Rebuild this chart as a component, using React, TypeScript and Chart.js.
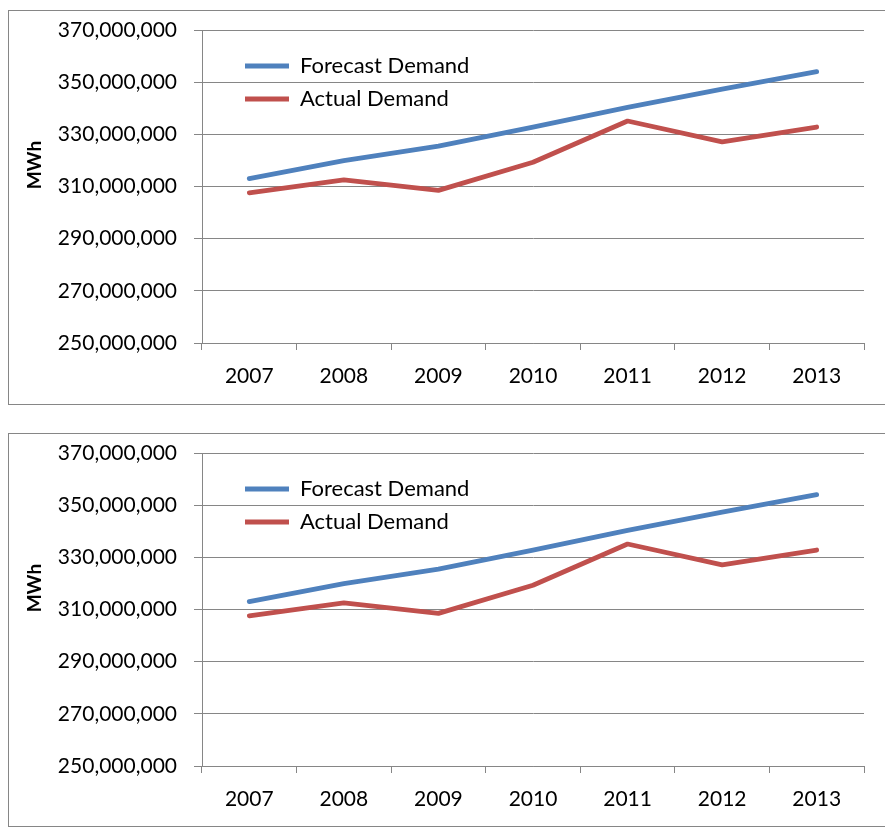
import React, { useEffect, useRef } from "react";
import { Chart, registerables } from "chart.js";

Chart.register(...registerables);

const years = ["2007", "2008", "2009", "2010", "2011", "2012", "2013"];
const forecastDemand = [313.0e6, 319.9e6, 325.5e6, 332.8e6, 340.3e6, 347.3e6, 354.0e6];
const actualDemand = [307.6e6, 312.5e6, 308.5e6, 319.3e6, 335.1e6, 327.1e6, 332.8e6];
const seriesNames = ["Forecast Demand", "Actual Demand"];
const yMin = 250000000;
const yMax = 370000000;
const yStep = 20000000;
const yTitle = "MWh";

const GRID = "#868686";
const FONT = "Lato";

const legendShift = {
  id: "legendShift",
  afterLayout(chart: any) {
    const lg = chart.legend;
    const ca = chart.chartArea;
    if (!lg || !ca) return;
    lg.left = ca.left + 32;
    lg.top = ca.top + 14;
    lg.right = lg.left + lg.width;
    lg.bottom = lg.top + lg.height;
  },
};

function LineChart({ height }: { height: number }) {
  const ref = useRef<HTMLCanvasElement | null>(null);
  useEffect(() => {
    if (!ref.current) return;
    const xHeight = height - 332;
    const chart = new Chart(ref.current, {
      type: "line",
      data: {
        labels: years,
        datasets: [
          {
            label: seriesNames[0],
            data: forecastDemand,
            borderColor: "#4F81BD",
            backgroundColor: "#4F81BD",
            borderWidth: 4.8,
            borderCapStyle: "round",
            borderJoinStyle: "round",
            pointRadius: 0,
            tension: 0,
          },
          {
            label: seriesNames[1],
            data: actualDemand,
            borderColor: "#C0504D",
            backgroundColor: "#C0504D",
            borderWidth: 4.8,
            borderCapStyle: "round",
            borderJoinStyle: "round",
            pointRadius: 0,
            tension: 0,
          },
        ],
      },
      options: {
        animation: false,
        responsive: true,
        maintainAspectRatio: false,
        layout: { padding: { left: 0, top: 19, right: 13, bottom: 0 } },
        plugins: {
          tooltip: { enabled: false },
          legend: {
            position: "chartArea" as any,
            align: "start",
            labels: {
              usePointStyle: true,
              pointStyle: "line",
              pointStyleWidth: 44,
              padding: 11,
              color: "#000",
              font: { family: FONT, size: 22 },
            },
          },
        },
        scales: {
          x: {
            type: "category",
            offset: true,
            grid: {
              display: true,
              drawOnChartArea: false,
              drawTicks: true,
              tickLength: 7,
              offset: true,
              color: GRID,
            },
            border: { display: true, color: GRID },
            ticks: {
              color: "#000",
              font: { family: FONT, size: 21 },
              padding: 14,
              maxRotation: 0,
            },
            afterFit: (s: any) => {
              s.height = xHeight;
            },
          },
          y: {
            min: yMin,
            max: yMax,
            grid: { color: GRID, tickLength: 8 },
            border: { display: true, color: GRID },
            ticks: {
              stepSize: yStep,
              color: "#000",
              font: { family: FONT, size: 21 },
              padding: 17,
              callback: (v: any) => Number(v).toLocaleString("en-US"),
            },
            title: {
              display: true,
              text: "\u2003\u2003\u2003" + yTitle,
              color: "#000",
              font: { family: FONT, size: 19, weight: "bold" },
              padding: { top: 14, bottom: 0 },
            },
            afterFit: (s: any) => {
              s.width = 193;
              s.paddingTop = 0;
              s.paddingBottom = 0;
            },
          },
        },
      },
      plugins: [legendShift],
    });
    return () => chart.destroy();
  }, [height]);
  return (
    <div style={{ position: "relative", width: 868, height }}>
      <canvas ref={ref} />
    </div>
  );
}

function Frame({ top, height }: { top: number; height: number }) {
  return (
    <div
      style={{
        position: "absolute",
        left: 8,
        top,
        width: 900,
        height,
        boxSizing: "border-box",
        border: `1px solid ${GRID}`,
        background: "#fff",
      }}
    >
      <LineChart height={height - 2} />
    </div>
  );
}

export default function App() {
  return (
    <div
      style={{
        position: "fixed",
        left: 0,
        top: 0,
        width: 885,
        height: 829,
        overflow: "hidden",
        background: "#fff",
      }}
    >
      <Frame top={10} height={395} />
      <Frame top={433} height={394} />
    </div>
  );
}
